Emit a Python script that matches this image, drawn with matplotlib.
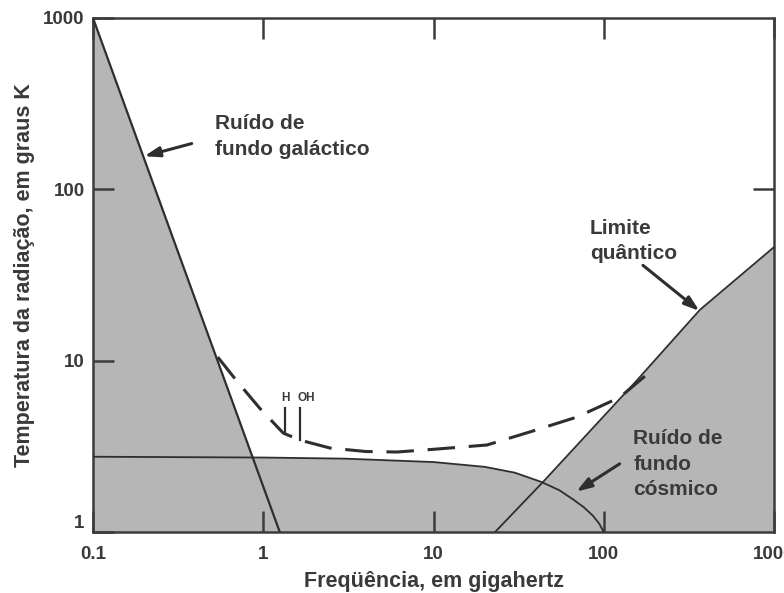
## Noise temperature of the radio sky versus frequency (log-log)

import numpy as np
import matplotlib
matplotlib.use("Agg")
import matplotlib.pyplot as plt

plt.rcParams['font.family'] = ['Liberation Sans', 'DejaVu Sans']

# galactic background noise (straight line on log-log)
gal_freq = [0.1, 1.25]
gal_temp = [1000, 1]

# cosmic background
cmb_freq = [0.1, 1, 3, 10, 20, 30, 43, 55, 66, 76, 86, 94, 100]
cmb_temp = [2.75, 2.72, 2.68, 2.56, 2.4, 2.22, 1.96, 1.75, 1.55, 1.4, 1.25, 1.12, 1.0]

# quantum limit
qnt_freq = [23, 44, 157, 367, 1000]
qnt_temp = [1.0, 1.96, 7.7, 19.8, 46]

# dashed total (minimum achievable) noise
tot_freq = [0.54, 0.7, 0.95, 1.31, 1.64, 2.47, 4.0, 6.1, 10.5, 20.6, 36.9, 69.7, 124, 192]
tot_temp = [10.5, 7.6, 5.3, 3.78, 3.44, 3.09, 2.95, 2.93, 3.05, 3.22, 3.84, 4.69, 6.1, 8.8]

# spectral lines
line_names = ['H', 'OH']
line_freq = [1.35, 1.65]
line_base = [3.78, 3.44]
line_top = 5.3

fill_col = '#b6b6b6'
ink = '#2e2e2e'
txt = '#3a3a3a'

fig = plt.figure(figsize=(7.84, 5.93), dpi=100)
ax = fig.add_axes([93/784, 1 - 532/593, 681/784, 514/593])
ax.set_xscale('log')
ax.set_yscale('log')
ax.set_xlim(0.1, 1000)
ax.set_ylim(1, 1000)

# shaded areas
ax.fill_between(gal_freq, 1, gal_temp, color=fill_col, lw=0, zorder=1)
ax.fill_between(cmb_freq, 1, cmb_temp, color=fill_col, lw=0, zorder=1)
ax.fill_between(qnt_freq + [1000], 1, qnt_temp + [qnt_temp[-1]], color=fill_col, lw=0, zorder=1)

ax.plot(gal_freq, gal_temp, color=ink, lw=1.6, zorder=3)
ax.plot(cmb_freq, cmb_temp, color=ink, lw=1.3, zorder=3)
ax.plot(qnt_freq, qnt_temp, color=ink, lw=1.3, zorder=3)
ax.plot(tot_freq, tot_temp, color=ink, lw=2.2, ls=(0, (9, 4.5)), zorder=3)

for name, f, b in zip(line_names, line_freq, line_base):
    ax.plot([f, f], [b, line_top], color=ink, lw=1.6, zorder=3)
ax.text(1.35, 5.6, 'H', fontsize=8.5, fontweight='bold', color=txt, ha='center', va='bottom')
ax.text(1.8, 5.6, 'OH', fontsize=8.5, fontweight='bold', color=txt, ha='center', va='bottom')

# annotations
arrow = dict(arrowstyle='-|>,head_length=0.9,head_width=0.3', color=ink, lw=2.2, shrinkA=0, shrinkB=0)
ax.annotate('', xy=(0.2, 156), xytext=(0.38, 185), arrowprops=arrow)
ax.text(0.52, 204, 'Ruído de\nfundo galáctico', fontsize=15, fontweight='bold', color=txt,
        ha='left', va='center', linespacing=1.45)

ax.annotate('', xy=(365, 19.5), xytext=(170, 36), arrowprops=arrow)
ax.text(83, 37, 'Limite\nquântico', fontsize=15, fontweight='bold', color=txt,
        ha='left', va='bottom', linespacing=1.45)

ax.annotate('', xy=(69, 1.72), xytext=(124, 2.5), arrowprops=arrow)
ax.text(149, 2.49, 'Ruído de\nfundo\ncósmico', fontsize=15, fontweight='bold', color=txt,
        ha='left', va='center', linespacing=1.45)

# axes styling
for s in ax.spines.values():
    s.set_color('#3c3c3c')
    s.set_linewidth(1.8)
ax.set_xticks([0.1, 1, 10, 100, 1000])
ax.set_xticklabels(['0.1', '1', '10', '100', '1000'])
ax.set_yticks([1, 10, 100, 1000])
ax.set_yticklabels(['1', '10', '100', '1000'])
ax.minorticks_off()
ax.tick_params(which='major', direction='in', length=15, width=1.8, color='#3c3c3c',
               top=True, right=True, labelsize=13.5, labelcolor=txt)
ax.tick_params(axis='x', pad=10)
ax.tick_params(axis='y', pad=6)
for lab in ax.get_xticklabels() + ax.get_yticklabels():
    lab.set_fontweight('bold')
ax.get_yticklabels()[0].set_va('bottom')
for t, v in zip(ax.yaxis.get_major_ticks(), [1, 10, 100, 1000]):
    if v != 100:
        t.tick2line.set_visible(False)

ax.set_xlabel('Freqüência, em gigahertz', fontsize=15.5, fontweight='bold', color=txt, labelpad=6)
ax.set_ylabel('Temperatura da radiação, em graus K', fontsize=15.5, fontweight='bold', color=txt, labelpad=6)

fig.savefig('out.png', dpi=100)
